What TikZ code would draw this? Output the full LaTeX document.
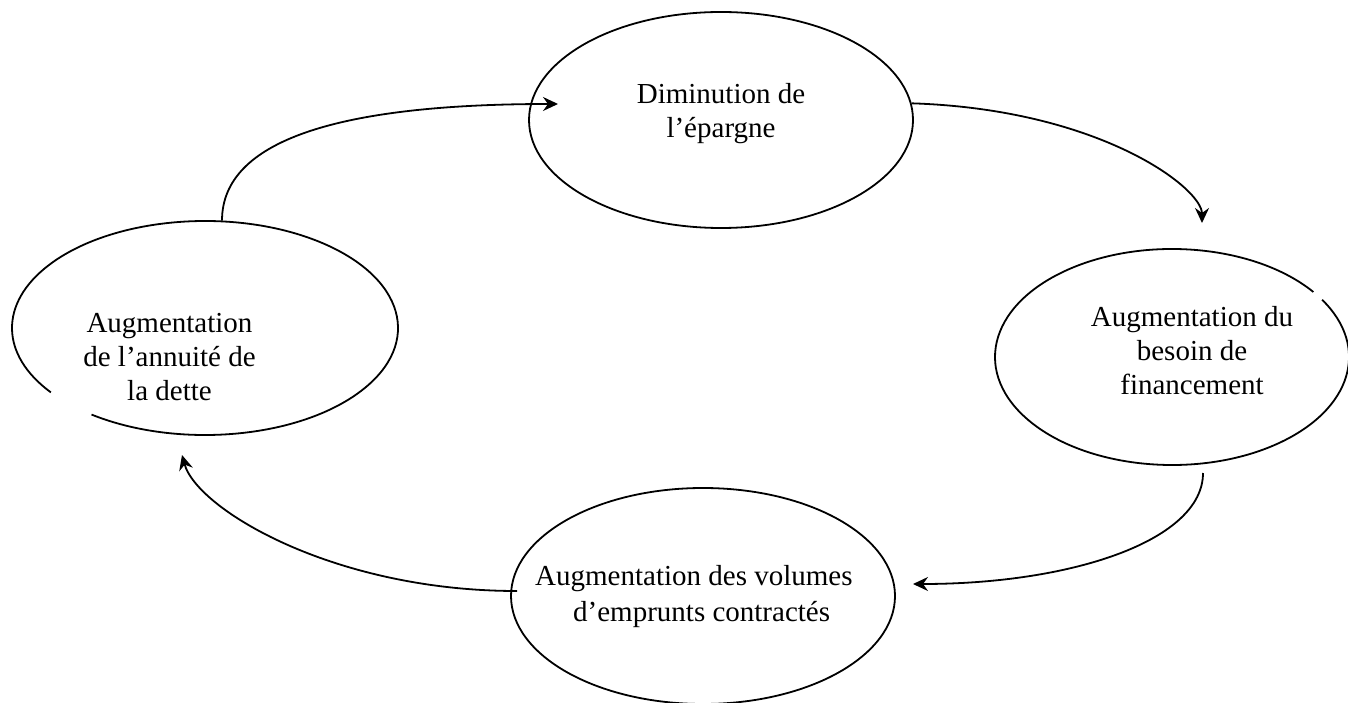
\documentclass[tikz,border=0pt]{standalone}
\usepackage{fontspec}
\setmainfont{Liberation Serif}
\usetikzlibrary{shapes.geometric,arrows.meta,calc}
\begin{document}
\begin{tikzpicture}[x=1pt,y=1pt,
  bubble/.style={ellipse, inner sep=0pt, line width=1.8pt},
  rim/.style={line width=1.8pt},
  txt/.style={inner sep=0pt, align=center, font=\fontsize{29}{34}\selectfont},
  flow/.style={line width=1.8pt, -{Stealth[length=15pt,width=14pt,inset=5pt]}}]
\useasboundingbox (0,0) rectangle (1348,702);
% ellipses
\node[bubble, draw, minimum width=384pt, minimum height=216pt] (T) at (721,582) {};
\node[bubble, minimum width=354pt, minimum height=216pt] (R) at (1172,345) {};
\node[bubble, draw, minimum width=384pt, minimum height=216pt] (B) at (703,106) {};
\node[bubble, minimum width=386pt, minimum height=214pt] (L) at (205,374) {};
\draw[rim] ([shift={(234:193 and 107)}]L.center) arc[start angle=234, end angle=577, x radius=193, y radius=107];
\draw[rim] ([shift={(37:177 and 108)}]R.center) arc[start angle=37, end angle=392, x radius=177, y radius=108];
% texts
\node[txt] (Tt) at (721,588.5) {Diminution de\\l’épargne};
\node[txt] (Rt) at (1192,351.5) {Augmentation du\\besoin de\\financement};
\node[txt, align=left, anchor=west, font=\fontsize{29}{36}\selectfont] (Bt) at (535,105) {Augmentation des volumes\\\hspace*{38pt}d’emprunts contractés};
\node[txt] (Lt) at (169.5,345) {Augmentation\\de l’annuité de\\la dette};
% arrows
\draw[flow] (L.81) .. controls +(0,80) and +(-220,0) .. ($(T.center)+(-163,16)$);
\draw[flow] (T.5) .. controls +(188,-6) and +(0,35) .. ($(R.center)+(30,134)$);
\draw[flow] ($(R.center)+(31,-116)$) .. controls +(0,-67) and +(160,0) .. ($(B.center)+(210,12)$);
\draw[flow] ($(B.center)+(-186,5)$) .. controls +(-184,0) and +(15,-54) .. ($(L.center)+(-23,-127)$);
\end{tikzpicture}
\end{document}
